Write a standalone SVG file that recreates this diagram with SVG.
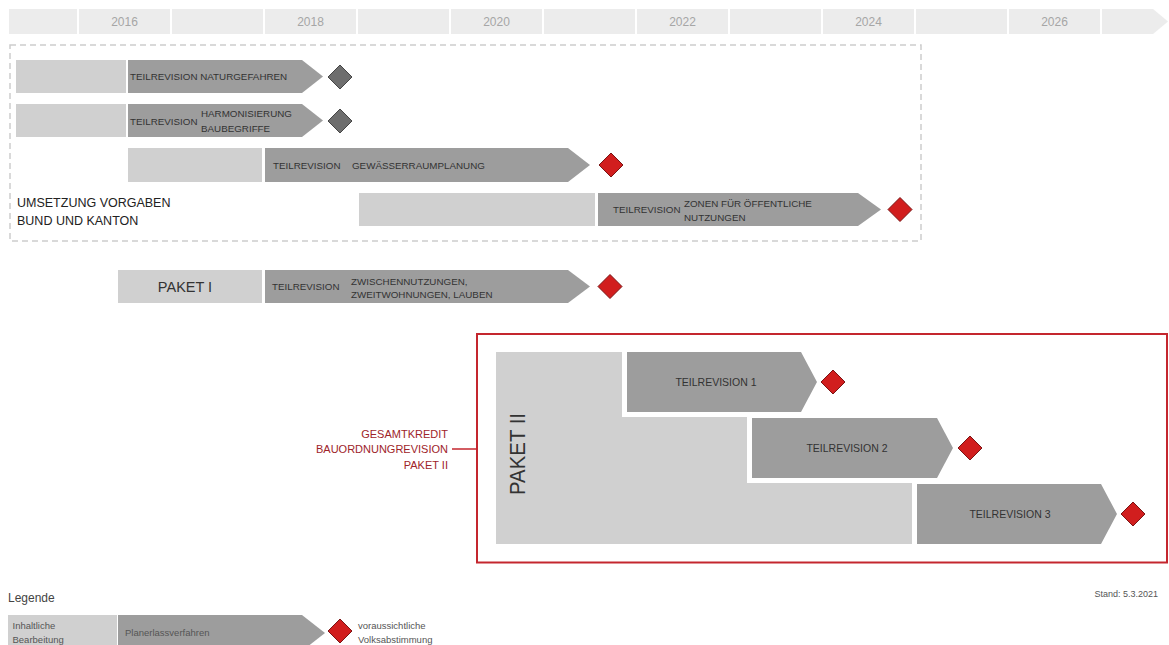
<svg xmlns="http://www.w3.org/2000/svg" width="1169" height="645" viewBox="0 0 1169 645">
<defs>
<style>
text{font-family:"Liberation Sans",Arial,sans-serif;}
.tl{fill:#ececec;}
.yr{font-size:12px;fill:#a6a6a6;text-anchor:middle;}
.lt{fill:#d0d0d0;}
.dk{fill:#9d9d9d;}
.lb{font-size:9.8px;fill:#333;}
.tr{font-size:10.5px;fill:#333;text-anchor:middle;}
.gd{fill:#6e6e6e;stroke:#454545;stroke-width:1;}
.rd{fill:#d11e1e;stroke:#7a1414;stroke-width:1;}
.red{font-size:11px;fill:#9e2429;text-anchor:end;}
.lg{font-size:9.5px;fill:#555;}
</style>
</defs>
<rect width="1169" height="645" fill="#fff"/>

<g id="timeline">
<rect class="tl" x="9" y="9" width="68" height="25"/>
<rect class="tl" x="79" y="9" width="91" height="25"/>
<rect class="tl" x="172" y="9" width="91" height="25"/>
<rect class="tl" x="265" y="9" width="91" height="25"/>
<rect class="tl" x="358" y="9" width="91" height="25"/>
<rect class="tl" x="451" y="9" width="91" height="25"/>
<rect class="tl" x="544" y="9" width="91" height="25"/>
<rect class="tl" x="637" y="9" width="91" height="25"/>
<rect class="tl" x="730" y="9" width="91" height="25"/>
<rect class="tl" x="823" y="9" width="91" height="25"/>
<rect class="tl" x="916" y="9" width="91" height="25"/>
<rect class="tl" x="1009" y="9" width="91" height="25"/>
<polygon class="tl" points="1102,9 1153,9 1168,21.5 1153,34 1102,34"/>
<text class="yr" x="124.5" y="26">2016</text>
<text class="yr" x="310.5" y="26">2018</text>
<text class="yr" x="496.5" y="26">2020</text>
<text class="yr" x="682.5" y="26">2022</text>
<text class="yr" x="868.5" y="26">2024</text>
<text class="yr" x="1054.5" y="26">2026</text>
</g>

<g id="umsetzung">
<rect x="10" y="45" width="911" height="196" fill="none" stroke="#cdcdcd" stroke-width="1.5" stroke-dasharray="6 4"/>
<text x="17" y="207" font-size="12.5" fill="#222">UMSETZUNG VORGABEN</text>
<text x="17" y="225" font-size="12.5" fill="#222">BUND UND KANTON</text>
</g>

<g id="naturgefahren">
<rect class="lt" x="16" y="60" width="110" height="33"/>
<polygon class="dk" points="128,60 302,60 323,76.5 302,93 128,93"/>
<text class="lb" x="130" y="80">TEILREVISION NATURGEFAHREN</text>
<polygon class="gd" points="340,65 352,77 340,89 328,77"/>
</g>

<g id="harmonisierung">
<rect class="lt" x="16" y="104" width="110" height="33"/>
<polygon class="dk" points="128,104 302,104 323,120.5 302,137 128,137"/>
<text class="lb" x="130" y="124.5">TEILREVISION</text>
<text class="lb" x="201" y="117">HARMONISIERUNG</text>
<text class="lb" x="201" y="131.5">BAUBEGRIFFE</text>
<polygon class="gd" points="340,109 352,121 340,133 328,121"/>
</g>

<g id="gewaesserraum">
<rect class="lt" x="128" y="148" width="134" height="34"/>
<polygon class="dk" points="265,148 568,148 590,165 568,182 265,182"/>
<text class="lb" x="273" y="168.5">TEILREVISION</text>
<text class="lb" x="352" y="168.5">GEWÄSSERRAUMPLANUNG</text>
<polygon class="rd" points="611,153 623,165 611,177 599,165"/>
</g>

<g id="zonen">
<rect class="lt" x="359" y="193" width="236" height="33"/>
<polygon class="dk" points="598,193 858,193 881,209.5 858,226 598,226"/>
<text class="lb" x="613" y="213">TEILREVISION</text>
<text class="lb" x="684" y="207">ZONEN FÜR ÖFFENTLICHE</text>
<text class="lb" x="684" y="220.5">NUTZUNGEN</text>
<polygon class="rd" points="900,197.5 912,209.5 900,221.5 888,209.5"/>
</g>

<g id="paket1">
<rect class="lt" x="118" y="270" width="144" height="33"/>
<text x="185" y="292" font-size="14.5" fill="#333" text-anchor="middle">PAKET I</text>
<polygon class="dk" points="265,270 568,270 590,286.5 568,303 265,303"/>
<text class="lb" x="272" y="290">TEILREVISION</text>
<text class="lb" x="351" y="284.5">ZWISCHENNUTZUNGEN,</text>
<text class="lb" x="351" y="298">ZWEITWOHNUNGEN, LAUBEN</text>
<polygon class="rd" points="610,274.5 622,286.5 610,298.5 598,286.5"/>
</g>

<g id="gesamtkredit">
<rect x="477" y="334" width="690" height="228.5" fill="none" stroke="#c4262e" stroke-width="2"/>
<text class="red" x="448" y="437.5">GESAMTKREDIT</text>
<text class="red" x="448" y="453">BAUORDNUNGREVISION</text>
<text class="red" x="448" y="468.5">PAKET II</text>
</g>

<g id="paket2">
<path class="lt" d="M496,352 H622 V417 H747 V483 H912 V544 H496 Z"/>
<text transform="translate(525,495) rotate(-90)" font-size="22" fill="#333" textLength="82" lengthAdjust="spacingAndGlyphs">PAKET II</text>
</g>

<g id="teilrevision1">
<polygon class="dk" points="627,352 801,352 817,382 801,412 627,412"/>
<text class="tr" x="716" y="386">TEILREVISION 1</text>
<polygon class="rd" points="833,370 845,382 833,394 821,382"/>
</g>

<g id="teilrevision2">
<polygon class="dk" points="752,418 937,418 953,448 937,478 752,478"/>
<text class="tr" x="847" y="452">TEILREVISION 2</text>
<polygon class="rd" points="970,436 982,448 970,460 958,448"/>
</g>

<g id="teilrevision3">
<polygon class="dk" points="917,484 1101,484 1117,514 1101,544 917,544"/>
<text class="tr" x="1010" y="518">TEILREVISION 3</text>
<polygon class="rd" points="1133,502 1145,514 1133,526 1121,514"/>
</g>

<g id="connectors">
<line x1="452" y1="449" x2="477" y2="449" stroke="#c4262e" stroke-width="1.5"/>
</g>

<g id="legende">
<text x="8" y="602" font-size="12" fill="#444">Legende</text>
<rect class="lt" x="8" y="615" width="109" height="36"/>
<polygon class="dk" points="118,615 302,615 325,633 302,651 118,651"/>
<text class="lg" x="12.5" y="628.5">Inhaltliche</text>
<text class="lg" x="12.5" y="642.5">Bearbeitung</text>
<text class="lg" x="125" y="636">Planerlassverfahren</text>
<polygon class="rd" points="340,619 352,631 340,643 328,631"/>
<text class="lg" x="358" y="628.5">voraussichtliche</text>
<text class="lg" x="358" y="642.5">Volksabstimmung</text>
</g>

<g id="stand">
<text x="1158" y="597" font-size="9" fill="#555" text-anchor="end">Stand: 5.3.2021</text>
</g>
</svg>
